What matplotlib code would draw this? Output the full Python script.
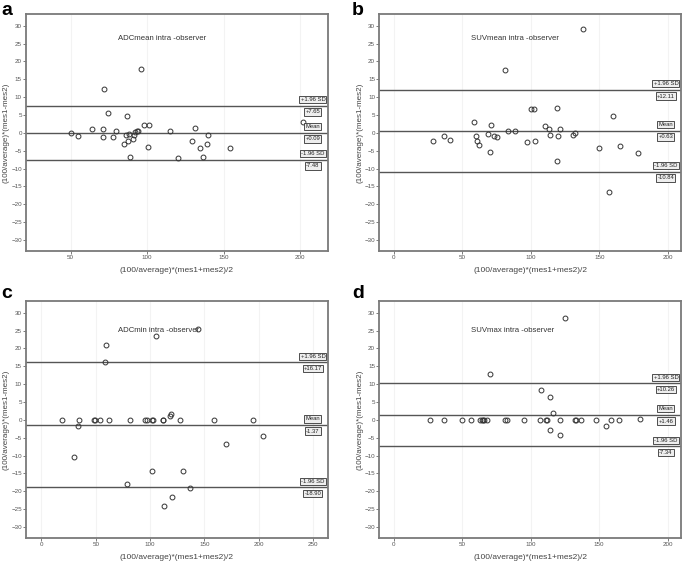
import matplotlib
matplotlib.use("Agg")
import matplotlib.pyplot as plt

plt.rcParams['font.family'] = ['Liberation Sans', 'DejaVu Sans']

# panel a - ADCmean
a_x = [50, 54.6, 63.7, 71.1, 70.9, 71.6, 74.6, 77.9, 79.9, 86.8, 86.2, 84.9, 87.7, 88.4,
       88.6, 91, 91.4, 92.3, 93.2, 93.8, 96, 97.7, 100.8, 101.4, 115.2, 120.4, 129.1,
       131.5, 134.8, 136.8, 139.4, 139.6, 154, 202]
a_y = [0, -0.8, 1.1, 1.2, -1.1, 12.2, 5.6, -1.1, 0.5, 4.8, -0.5, -3.0, -2.4, -0.4,
       -6.9, -1.7, -0.6, 0.2, 0.5, 0.6, 17.8, 2.2, -3.9, 2.1, 0.4, -7.0, -2.2,
       1.4, -4.3, -6.9, -3.2, -0.7, -4.3, 3.1]

# panel b - SUVmean
b_x = [28.2, 36.7, 41.1, 58.8, 59.8, 60.5, 62, 68.8, 70.5, 71.2, 73.4, 75.3, 81.4, 83.1,
       88.2, 97.5, 100, 102, 103, 110.1, 113, 114.2, 119.1, 119.6, 119.1, 121.5, 130.7,
       132.5, 138, 149.5, 156.8, 160, 165.3, 178.1]
b_y = [-2.4, -0.8, -1.9, 3.1, -0.9, -2.4, -3.3, -0.3, -5.4, 2.2, -0.8, -1.2, 17.7, 0.5,
       0.5, -2.7, 6.6, 6.6, -2.2, 1.9, 1.1, -0.5, 7.1, -0.8, -7.8, 1.0, -0.5,
       0.1, 29.1, -4.2, -16.5, 4.6, -3.6, -5.6]

# panel c - ADCmin
c_x = [18.5, 34.8, 48, 49.5, 53.8, 62.1, 81.1, 95.5, 97.5, 102, 102.5, 111.5, 112, 127.5,
       159, 194.5, 118.2, 119.7, 33.6, 59.3, 58.4, 105.1, 144.2, 29.6, 101.9, 78.7,
       119.8, 112.7, 204, 169.7, 130.4, 136.6]
c_y = [0, 0, 0, 0, 0, 0, 0, 0, 0, 0, 0, 0, 0, 0,
       0, 0, 1.0, 1.7, -1.6, 21.0, 16.3, 23.5, 25.4, -10.3, -14.3, -18.1,
       -21.7, -24.0, -4.6, -6.7, -14.4, -19.0]

# panel d - SUVmax
d_x = [26.3, 36.5, 49.5, 56.5, 62.8, 64.1, 65.3, 66, 67.7, 80.9, 82.3, 95, 106.7, 110.8,
       112, 121.3, 132, 133, 136.4, 147.9, 158.6, 164.7,
       125, 70.2, 107.4, 114, 116, 113.8, 121.3, 154.9, 179.8]
d_y = [0] * 22 + [28.6, 12.9, 8.3, 6.3, 1.8, -2.8, -4.3, -1.7, 0.2]

titles = ["ADCmean intra -observer", "SUVmean intra -observer",
          "ADCmin intra -observer", "SUVmax intra -observer"]
letters = ["a", "b", "c", "d"]
means = [0.09, 0.63, -1.37, 1.46]
uppers = [7.65, 12.11, 16.17, 10.26]
lowers = [-7.48, -10.84, -18.90, -7.34]
mean_labels = ["+0.09", "+0.63", "-1.37", "+1.46"]
upper_labels = ["+7.65", "+12.11", "+16.17", "+10.26"]
lower_labels = ["-7.48", "-10.84", "-18.90", "-7.34"]
xticks_list = [[50, 100, 150, 200], [0, 50, 100, 150, 200],
               [0, 50, 100, 150, 200, 250], [0, 50, 100, 150, 200]]
xlims = [(20.8, 218.3), (-10.7, 209.7), (-14.2, 263.8), (-10.7, 209.8)]
yticks = list(range(-30, 31, 5))

W, H = 685, 564
fig = plt.figure(figsize=(W / 100, H / 100), dpi=100)

# pixel boxes: left, top, right, bottom
boxes = [(26, 14, 328, 251), (379.3, 14, 681, 251),
         (26, 301, 328, 538), (379.3, 301, 681, 538)]
letter_pos = [(1, 2), (352, 2), (1, 285), (352, 285)]

xs = [a_x, b_x, c_x, d_x]
ys = [a_y, b_y, c_y, d_y]

frame_col = "#7a7a7a"
line_col = "#555555"

for i in range(4):
    l, t, r, b = boxes[i]
    ax = fig.add_axes([l / W, 1 - b / H, (r - l) / W, (b - t) / H])
    ax.set_xlim(*xlims[i])
    ax.set_ylim(-33.1, 33.3)
    ax.set_xticks(xticks_list[i])
    ax.set_yticks(yticks)
    for xt in xticks_list[i]:
        ax.axvline(xt, color="#f3f3f3", lw=0.8, zorder=0)
    for s in ax.spines.values():
        s.set_color(frame_col)
        s.set_linewidth(1.3)
    ax.tick_params(length=2, width=0.6, color="#666666", labelsize=4.5,
                   labelcolor="#555555", pad=1)

    for v in (uppers[i], means[i], lowers[i]):
        ax.axhline(v, color=line_col, lw=1.0, zorder=1)

    ax.plot(xs[i], ys[i], "o", ms=3.5, mfc="none", mec="#333333", mew=0.7,
            zorder=3, clip_on=False)

    ax.text(0.305, 0.895 if i < 2 else 0.875, titles[i], transform=ax.transAxes,
            fontsize=5.6, color="#333333", va="center", ha="left")

    tr = ax.get_yaxis_transform()
    bbox = dict(boxstyle="square,pad=0.2", fc="#eeeeee", ec="#333333", lw=0.6)
    pairs = [(uppers[i], "+1.96 SD", upper_labels[i]),
             (means[i], "Mean", mean_labels[i]),
             (lowers[i], "-1.96 SD", lower_labels[i])]
    for v, above, below in pairs:
        ax.annotate(above, (0.95, v), xycoords=tr, xytext=(0, 4.2),
                    textcoords="offset points", ha="center", va="center",
                    fontsize=4.2, color="#222222", bbox=bbox)
        ax.annotate(below, (0.95, v), xycoords=tr, xytext=(0, -4.6),
                    textcoords="offset points", ha="center", va="center",
                    fontsize=4.2, color="#222222", bbox=bbox)

    ax.set_xlabel("(100/average)*(mes1+mes2)/2", fontsize=6, color="#444444",
                  labelpad=5)
    ax.set_ylabel("(100/average)*(mes1-mes2)", fontsize=5.8, color="#444444",
                  labelpad=1)

    lx, ly = letter_pos[i]
    fig.text(lx / W, 1 - ly / H, letters[i], fontsize=14, fontweight="bold",
             va="top", ha="left")

fig.savefig("out.png", dpi=100)
